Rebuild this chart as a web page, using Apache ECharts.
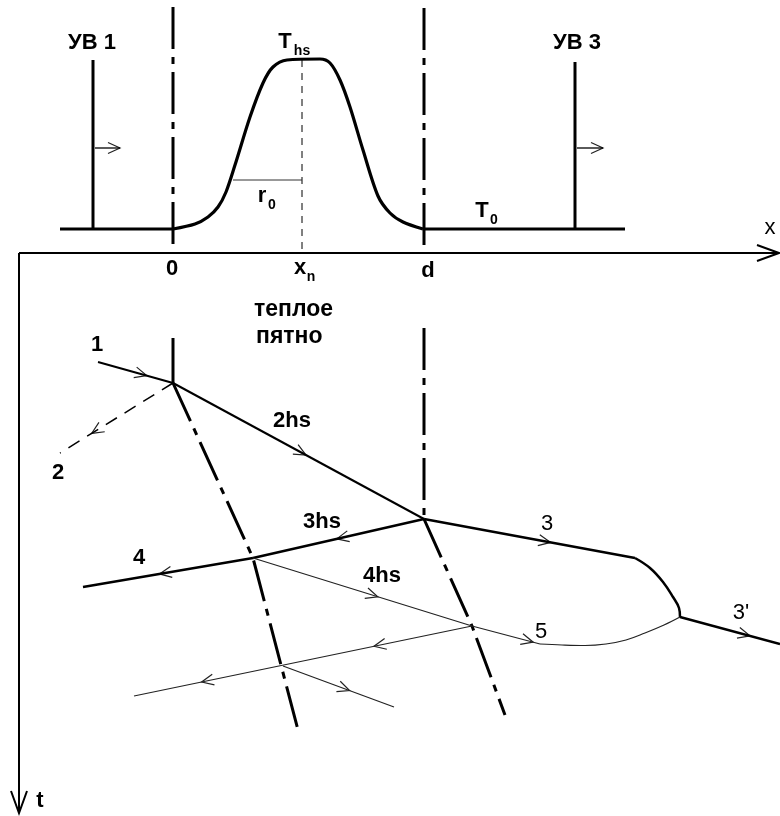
<!DOCTYPE html>
<html><head><meta charset="utf-8">
<script src="https://cdn.jsdelivr.net/npm/echarts@6/dist/echarts.min.js"></script>
<style>html,body{margin:0;padding:0;background:#fff}#c{width:780px;height:816px}</style>
</head><body><div id="c"></div>
<script>
// ---- diagram data (diagram coordinates) ----
const axisX = [[19,253],[779,253]];
const axisT = [[19,253],[19,813]];
const profileLeft = [[60,229],[173,229]];
const profileBump = [[173,229],[195,224],[208,217],[218,207],[226,192],[235,165],[250,117],[263,83],[273,67],[287,60],[320,59],[330,63],[340,80],[350,107],[363,150],[378,196],[390,213],[403,222],[423,229]];
const profileRight = [[423,229],[625,229]];
const shock1 = [[93,60],[93,229]];
const shock3 = [[575,62],[575,229]];
const shock1Move = [[95,148],[120,148]];
const shock3Move = [[577,148],[603,148]];
const edgeZeroTop = [[173,7],[173,253]];
const edgeDTop = [[424,8],[424,253]];
const centerLine = [[302,60],[302,253]];
const radiusLine = [[233,180],[302,180]];
const edgeZeroLow = [[173,338],[173,383]];
const edgeDLow = [[424,328],[424,519]];
const edgeZeroPath = [[173,383],[253,558],[298,730]];
const edgeDPath = [[424,519],[472,626],[505,715]];
const ray1 = [[98,362],[173,383]];
const ray2 = [[173,383],[60,453]];
const ray2hs = [[173,383],[424,519]];
const ray3 = [[424,519],[635,558]];
const ray3Curve = [[635,558],[650,568],[663,582],[673,597],[679,608],[680,617]];
const ray3hs = [[424,519],[253,558]];
const ray4 = [[253,558],[83,587]];
const ray4hs = [[253,558],[472,626],[540,644]];
const ray5Curve = [[540,644],[562,645],[585,645.5],[606,644],[626,640],[645,633],[664,625],[680,617]];
const rayBack = [[472,626],[134,696]];
const rayFwd = [[283,666],[394,707]];
const ray3p = [[680,617],[780,644]];
// arrows: [path, segment index, fraction along segment]
const arrowSpecs = [
  [ray1,0,0.65],[ray2,0,0.72],[ray2hs,0,0.53],[ray3hs,0,0.51],[ray4,0,0.55],
  [ray3,0,0.6],[ray4hs,0,0.57],[ray4hs,1,0.9],[rayBack,0,0.29],[rayBack,0,0.8],
  [rayFwd,0,0.6],[ray3p,0,0.7],[shock1Move,0,1],[shock3Move,0,1]
];
// labels: [text, x, y, kind]
const labels = [
  ['УВ 1',92,43,'b'],['УВ 3',577,43,'b'],
  ['T',285,42,'b'],['hs',302,51,'s'],
  ['r',262,196,'b'],['0',272,205,'s'],
  ['T',482,211,'b'],['0',494,220,'s'],
  ['x',770,228,'r'],['0',172,269,'b'],['x',300,268,'b'],['n',311,277,'s'],['d',428,271,'b'],
  ['теплое',254,310,'bl'],['пятно',256,337,'bl'],
  ['1',97,345,'b'],['2',58,473,'b'],['2hs',292,421,'b'],['3hs',322,522,'b'],['3',547,524,'r'],
  ['4',139,558,'b'],['4hs',382,576,'b'],['5',541,632,'r'],["3'",741,613,'r'],['t',40,801,'b']
];

// ---- rendering ----
const chart = echarts.init(document.getElementById('c'), null, {renderer:'canvas'});
function ln(data, width, type, color, smooth){
  return {type:'line', data:data, symbol:'none', silent:true, animation:false,
    smooth: smooth || false,
    lineStyle:{color: color || '#000', width: width, type: type || 'solid', cap:'butt', join:'round'}};
}
const DASHDOT = [42,8,7,8];
const series = [
  ln(axisX,2), ln(axisT,2),
  ln(profileLeft,3), ln(profileBump,3.2,'solid','#000',0.3), ln(profileRight,3),
  ln(shock1,3), ln(shock3,3), ln(shock1Move,1.3), ln(shock3Move,1.3),
  ln(edgeZeroTop,3,DASHDOT), ln(edgeDTop,3,DASHDOT),
  ln(centerLine,1,[7,6]), ln(radiusLine,1,'solid','#333'),
  ln(edgeZeroLow,3), ln(edgeDLow,3,DASHDOT),
  ln(edgeZeroPath,3,DASHDOT), ln(edgeDPath,3,DASHDOT),
  ln(ray1,2), ln(ray2,1.5,[13,9]), ln(ray2hs,2), ln(ray3,2.5), ln(ray3Curve,2.5,'solid','#000',0.4),
  ln(ray3hs,2.5), ln(ray4,2.5), ln(ray4hs,1.2,'solid','#222'), ln(ray5Curve,1.2,'solid','#222',0.4),
  ln(rayBack,1.2,'solid','#222'), ln(rayFwd,1.2,'solid','#222'), ln(ray3p,2.5)
];
// arrows
const arrowData = arrowSpecs.map(s => {
  const a = s[0][s[1]], b = s[0][s[1]+1], f = s[2];
  return [a[0]+(b[0]-a[0])*f, a[1]+(b[1]-a[1])*f, b[0], b[1], a[0], a[1]];
});
series.push({type:'custom', silent:true, animation:false, data: arrowData,
  encode:{x:0,y:1},
  renderItem: function(params, api){
    const tip = api.coord([api.value(0), api.value(1)]);
    const to = api.coord([api.value(2), api.value(3)]);
    const fr = api.coord([api.value(4), api.value(5)]);
    let dx = to[0]-fr[0], dy = to[1]-fr[1];
    const L = Math.hypot(dx,dy); dx/=L; dy/=L;
    const len = 12, w = 5.5;
    return {type:'polyline', shape:{points:[
      [tip[0]-len*dx + w*dy, tip[1]-len*dy - w*dx], tip, [tip[0]-len*dx - w*dy, tip[1]-len*dy + w*dx]
    ]}, style:{stroke:'#222', lineWidth:1.2, fill:null}};
  }});
// axis arrowheads
series.push({type:'custom', silent:true, animation:false,
  data:[[axisX[1][0],axisX[1][1],1,0],[axisT[1][0],axisT[1][1],0,1]], encode:{x:0,y:1},
  renderItem: function(params, api){
    const tip = api.coord([api.value(0), api.value(1)]);
    const dx = api.value(2), dy = api.value(3);
    const len = 22, w = 8;
    return {type:'polyline', shape:{points:[
      [tip[0]-len*dx + w*dy, tip[1]-len*dy - w*dx], tip, [tip[0]-len*dx - w*dy, tip[1]-len*dy + w*dx]
    ]}, style:{stroke:'#000', lineWidth:2, fill:null}};
  }});
// labels
const FONTS = {
  b:'bold 22px "Liberation Sans", Arial, sans-serif',
  bl:'bold 23px "Liberation Sans", Arial, sans-serif',
  r:'22px "Liberation Sans", Arial, sans-serif',
  s:'bold 14px "Liberation Sans", Arial, sans-serif'
};
series.push({type:'custom', silent:true, animation:false,
  data: labels.map(l => [l[1], l[2]]), encode:{x:0,y:1},
  renderItem: function(params, api){
    const l = labels[params.dataIndex];
    const p = api.coord([api.value(0), api.value(1)]);
    return {type:'text', x:p[0], y:p[1], style:{text:l[0], font:FONTS[l[3]], fill:'#000',
      align: l[3]==='bl' ? 'left' : 'center', verticalAlign:'middle'}};
  }});

chart.setOption({
  animation:false,
  grid:{left:0,right:0,top:0,bottom:0},
  xAxis:{type:'value', min:0, max:780, show:false},
  yAxis:{type:'value', min:0, max:816, inverse:true, show:false},
  series: series
});
</script></body></html>
